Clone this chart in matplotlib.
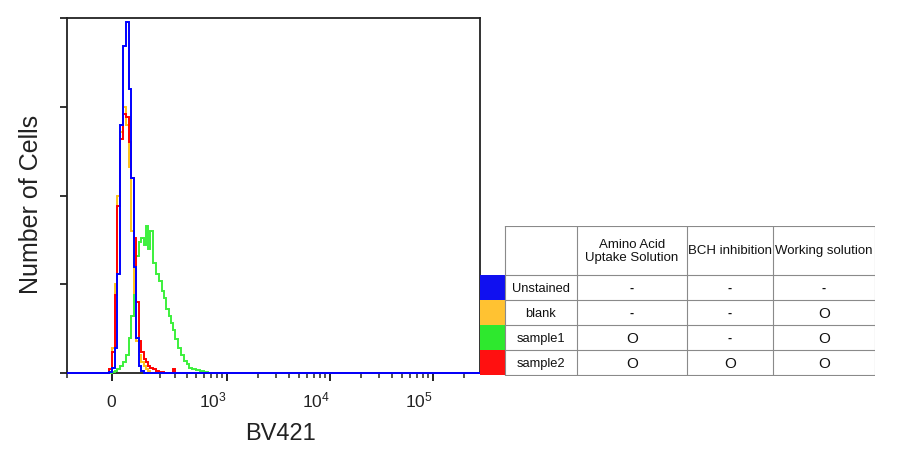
import numpy as np
import matplotlib
matplotlib.use('Agg')
import matplotlib.pyplot as plt
from matplotlib.ticker import FixedLocator
from matplotlib.patches import Rectangle

plt.rcParams['font.family'] = ['Liberation Sans', 'DejaVu Sans']

# BV421 channel bins (intensity), first/last bin reach the axis limits
x_min, x_max = -181, 285000
edges = np.concatenate([[x_min], np.arange(-40, 150, 10), np.arange(150, 300, 15),
                        np.arange(300, 500, 25), np.arange(500, 901, 50), [x_max]])

# counts per bin, % of max
unstained = [0, 0, 0, 0, 0.3, 1.5, 7, 28, 70, 92, 99, 80, 55, 30, 10, 2, 0.5,
             0, 0, 0, 0, 0, 0, 0, 0, 0, 0, 0, 0, 0, 0, 0, 0, 0, 0, 0, 0, 0, 0, 0, 0, 0, 0, 0, 0, 0, 0]
blank = [0, 0, 0, 0, 1, 7, 25, 50, 68, 75, 70, 58, 40, 16, 9, 5, 3, 2, 1, 0.5,
         0, 0, 0, 0, 0, 0, 0, 0, 0, 0, 0, 0, 0, 0, 0, 0, 0, 0, 0, 0, 0, 0, 0, 0, 0, 0, 0]
sample1 = [0, 0, 0, 0, 0, 0.3, 0.6, 1.2, 2, 3, 5, 10, 16, 22, 33, 37, 38, 36, 41.5, 35, 40,
           31, 28, 26, 23, 21, 18, 16, 14, 12, 9.5, 7, 5, 3.5, 2.5, 1.5, 1.2, 1, 0.8, 0.5, 0.2,
           0, 0, 0, 0, 0, 0]
sample2 = [0, 0, 0, 0, 1, 6, 22, 47, 66, 73, 72, 65, 55, 38, 20, 9, 6, 4, 3, 2, 1.5, 1,
           0.5, 0.3, 0.3, 0, 0, 0, 0, 1, 0, 0, 0, 0, 0, 0, 0, 0, 0, 0, 0, 0, 0, 0, 0, 0, 0]

series = [('blank', blank, '#ffc21a'), ('sample1', sample1, '#3cf03c'),
          ('sample2', sample2, '#ff0000'), ('Unstained', unstained, '#0000ff')]

# table contents
row_names = ['Unstained', 'blank', 'sample1', 'sample2']
row_colors = ['#1010f0', '#ffc232', '#2ee82e', '#ff1010']
col_names = ['Amino Acid\nUptake Solution', 'BCH inhibition', 'Working solution']
marks = [['-', '-', '-'],
         ['-', '-', 'O'],
         ['O', '-', 'O'],
         ['O', 'O', 'O']]

W = 155.0
def fwd(v):
    return np.arcsinh(np.asarray(v, dtype=float) / W)
def inv(u):
    return W * np.sinh(u)

fig = plt.figure(figsize=(9, 4.56), dpi=100)
ax = fig.add_axes([67/900, 1 - 374/456, 413/900, 355/456])
ax.set_xscale('function', functions=(fwd, inv))

for name, counts, col in series:
    ax.stairs(counts, edges, color=col, lw=1.4, baseline=None, clip_on=False, zorder=3)

ax.set_xlim(x_min, x_max)
ax.set_ylim(0, 100)

for s in ax.spines.values():
    s.set_linewidth(1.3)
    s.set_color('#222222')

ax.set_yticks([0, 25, 50, 75, 100])
ax.tick_params(axis='y', length=5, width=1.3, labelleft=False, color='#222222')
ax.set_xticks([0, 1e3, 1e4, 1e5],
              ['0', r'$\mathregular{10^3}$', r'$\mathregular{10^4}$', r'$\mathregular{10^5}$'])
minor = [x_min] + [200, 300, 400, 500, 600, 700, 800, 900] + \
        [2e3, 3e3, 4e3, 5e3, 6e3, 7e3, 8e3, 9e3] + \
        [2e4, 3e4, 4e4, 5e4, 6e4, 7e4, 8e4, 9e4] + [2e5]
ax.xaxis.set_minor_locator(FixedLocator(minor))
ax.tick_params(axis='x', which='major', length=6, width=1.4, pad=18,
               labelsize=12.5, labelcolor='#222222', color='#222222')
ax.tick_params(axis='x', which='minor', length=3.5, width=1.1, color='#222222')
for lbl, ha in zip(ax.get_xticklabels(), ['center', 'right', 'right', 'right']):
    lbl.set_ha(ha)
    lbl.set_va('baseline')

ax.set_xlabel('BV421', fontsize=17, color='#222222')
ax.set_ylabel('Number of Cells', fontsize=18, color='#222222')
ax.xaxis.set_label_coords(0.518, -0.138)
ax.yaxis.set_label_coords(-0.058, 0.479)

# table drawn in its own axes (pixel-like layout units)
tax = fig.add_axes([480/900, 1 - 377/456, 395/900, 150/456])
tax.set_xlim(480, 875)
tax.set_ylim(377, 227)
tax.axis('off')
col_edges = [505, 577, 687, 773, 875]
row_edges = [227, 276, 301.5, 326.5, 351.5, 376]
for y in row_edges:
    tax.plot([col_edges[0], col_edges[-1]], [y, y], color='#8a8a8a', lw=0.8)
for x in col_edges:
    tax.plot([x, x], [row_edges[0], row_edges[-1]], color='#8a8a8a', lw=0.8)

for j, name in enumerate(col_names):
    cx = (col_edges[j + 1] + col_edges[j + 2]) / 2
    tax.text(cx, (row_edges[0] + row_edges[1]) / 2, name, ha='center', va='center',
             fontsize=9.5, color='#111111', linespacing=1.2)

for i, name in enumerate(row_names):
    y0, y1 = row_edges[i + 1], row_edges[i + 2]
    cy = (y0 + y1) / 2
    tax.add_patch(Rectangle((480, y0), 25, y1 - y0, facecolor=row_colors[i], edgecolor='none'))
    tax.text((col_edges[0] + col_edges[1]) / 2, cy, name, ha='center', va='center',
             fontsize=9.3, color='#111111')
    for j, m in enumerate(marks[i]):
        cx = (col_edges[j + 1] + col_edges[j + 2]) / 2
        if m == 'O':
            tax.text(cx, cy, 'O', ha='center', va='center', fontsize=11, color='#111111')
        else:
            tax.text(cx, cy, '-', ha='center', va='center', fontsize=9, color='#111111',
                     fontweight='bold')

fig.savefig('out.png', dpi=100)
